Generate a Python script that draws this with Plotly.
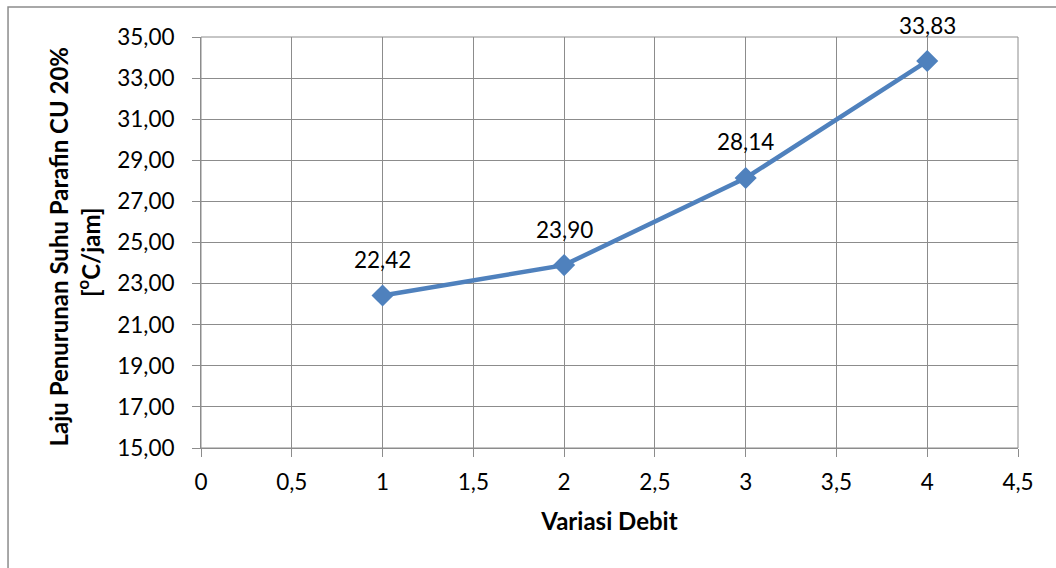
import plotly.graph_objects as go

# Cooling-rate data per flow variation
debit = [1, 2, 3, 4]
laju = [22.42, 23.90, 28.14, 33.83]
label_text = ["22,42", "23,90", "28,14", "33,83"]

x_title = "Variasi Debit"
y_title_line1 = "Laju Penurunan Suhu Parafin CU 20%"
y_title_line2 = "[<sup>o</sup>C/jam]"

FONT = "Lato, 'Open Sans', sans-serif"
BLUE = "#4F81BD"
GRID = "#8C8C8C"
TXT = 22.5
TITLE = 24

fig = go.Figure()
fig.add_trace(go.Scatter(
    x=debit, y=laju, mode="lines+markers",
    line=dict(color=BLUE, width=4.5),
    marker=dict(symbol="diamond", size=17, color=BLUE),
    hoverinfo="skip", showlegend=False,
))

for xv, yv, t in zip(debit, laju, label_text):
    fig.add_annotation(x=xv, y=yv, text=t, showarrow=False,
                       yanchor="middle", yshift=36,
                       font=dict(family=FONT, size=TXT, color="#000"))

# two-line vertical axis title
fig.add_annotation(xref="paper", yref="paper", x=-0.174, y=0.49,
                   text="<b>" + y_title_line1 + "</b>", textangle=-90,
                   showarrow=False, xanchor="center", yanchor="middle",
                   font=dict(family=FONT, size=TITLE, color="#000"))
fig.add_annotation(xref="paper", yref="paper", x=-0.138, y=0.475,
                   text="<b>" + y_title_line2 + "</b>", textangle=-90,
                   showarrow=False, xanchor="center", yanchor="middle",
                   font=dict(family=FONT, size=TITLE, color="#000"))

# chart frame
fig.add_shape(type="rect", xref="paper", yref="paper",
              x0=-0.2362, x1=1.2, y0=-0.5, y1=1.073,
              line=dict(color="#8C8C8C", width=1.5), layer="below")

fig.update_xaxes(
    range=[0, 4.5], dtick=0.5, tick0=0,
    showgrid=True, gridcolor=GRID, gridwidth=1,
    showline=True, linecolor=GRID, linewidth=1,
    ticks="outside", ticklen=8, tickcolor=GRID, tickwidth=1,
    ticklabelstandoff=6,
    tickfont=dict(family=FONT, size=TXT, color="#000"),
    title=dict(text="<b>" + x_title + "</b>", standoff=19,
               font=dict(family=FONT, size=TITLE, color="#000")),
    zeroline=False, mirror=False,
)
fig.update_yaxes(
    range=[15, 35], dtick=2, tick0=15, tickformat=".2f",
    showgrid=True, gridcolor=GRID, gridwidth=1,
    showline=True, linecolor=GRID, linewidth=1,
    ticks="outside", ticklen=8, tickcolor=GRID, tickwidth=1,
    ticklabelstandoff=13,
    tickfont=dict(family=FONT, size=TXT, color="#000"),
    zeroline=False,
)
# right and top plot borders
fig.add_shape(type="rect", xref="paper", yref="paper", x0=0, x1=1, y0=0, y1=1,
              line=dict(color=GRID, width=1), layer="below")

fig.update_layout(
    width=1056, height=568,
    margin=dict(l=201, r=38, t=37, b=120),
    paper_bgcolor="white", plot_bgcolor="white",
    separators=",.",
    font=dict(family=FONT, color="#000"),
)

fig.write_html("out.html")
